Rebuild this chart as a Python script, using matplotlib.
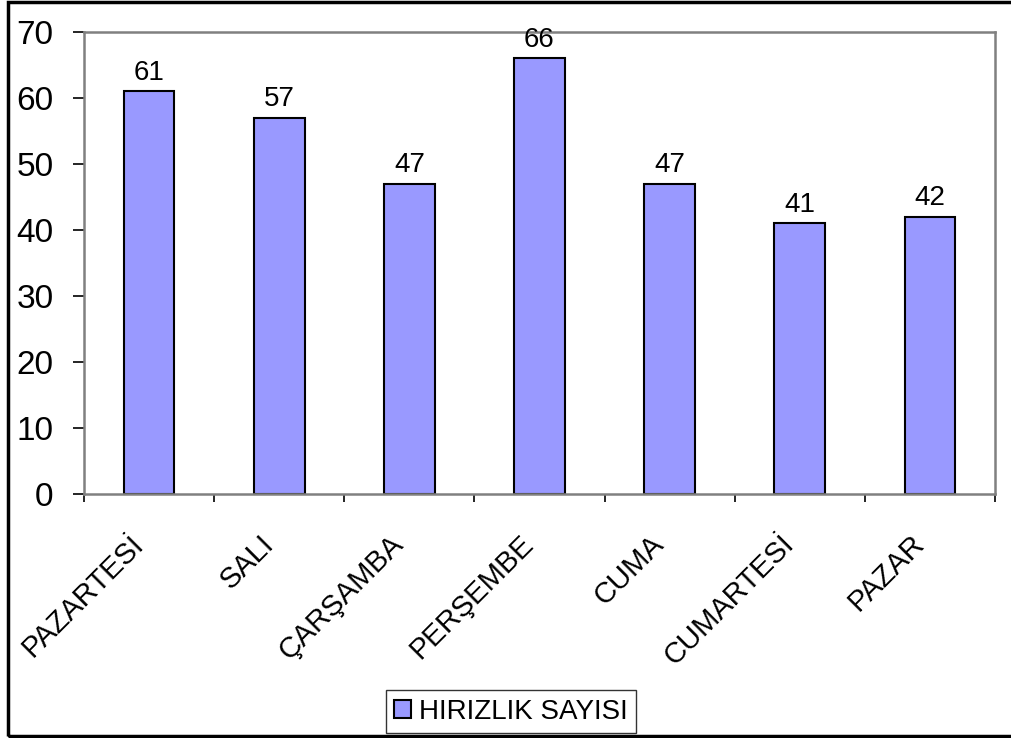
import numpy as np
import matplotlib.pyplot as plt
import matplotlib.transforms as mtransforms
from matplotlib.patches import Rectangle

# data
days = ["PAZARTESİ", "SALI", "ÇARŞAMBA", "PERŞEMBE", "CUMA", "CUMARTESİ", "PAZAR"]
counts = [61, 57, 47, 66, 47, 41, 42]
series_name = "HIRIZLIK SAYISI"

plt.rcParams['font.family'] = ['Liberation Sans', 'DejaVu Sans']

W, H = 1011, 738
fig = plt.figure(figsize=(W / 100, H / 100), dpi=100)

# plot area in pixel coordinates
left, top, right, bottom = 84, 32, 995, 494
ax = fig.add_axes([left / W, 1 - bottom / H, (right - left) / W, (bottom - top) / H])

x = np.arange(len(days))
ax.bar(x, counts, width=0.39, color='#9999FF', edgecolor='black',
       linewidth=1.5, label=series_name, zorder=2)

for xi, v in zip(x, counts):
    ax.annotate(str(v), (xi, v), xytext=(0, 4), textcoords='offset points',
                ha='center', va='bottom', fontsize=20)

ax.set_xlim(-0.5, len(days) - 0.5)
ax.set_ylim(0, 70)
ax.set_yticks(range(0, 71, 10))
ax.tick_params(axis='y', labelsize=24, length=8, width=1.2, color='black', pad=14)

ax.set_xticks(x)
ax.set_xticklabels(days, rotation=45, ha='right', va='center',
                   rotation_mode='anchor', fontsize=21)
ax.tick_params(axis='x', length=0, pad=33)
ax.set_xticks(np.arange(-0.5, len(days)), minor=True)
ax.tick_params(axis='x', which='minor', length=6, width=1.2, color='black')

# nudge category labels to the left like the original
shift = mtransforms.ScaledTranslation(-10 / 100, 0, fig.dpi_scale_trans)
for lbl in ax.get_xticklabels():
    lbl.set_transform(lbl.get_transform() + shift)

for s in ax.spines.values():
    s.set_color('#808080')
    s.set_linewidth(1.8)

leg = fig.legend(loc='lower center', bbox_to_anchor=(511 / W, 1 - 733 / H),
                 fontsize=20, frameon=True, fancybox=False, edgecolor='black',
                 handlelength=0.6, handleheight=0.6, handletextpad=0.3,
                 borderpad=0.3, borderaxespad=0)
leg.get_frame().set_linewidth(1.0)

# outer chart border
fig.patches.append(Rectangle((8 / W, 2 / H), 1.2, 1 - 4 / H, transform=fig.transFigure,
                             fill=False, edgecolor='black', linewidth=2.5))

fig.savefig('out.png', dpi=100)
